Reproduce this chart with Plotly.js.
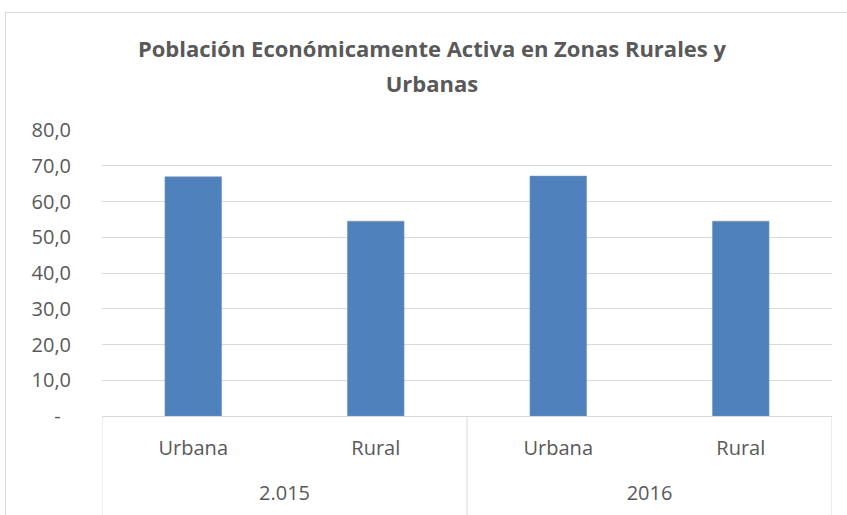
<!DOCTYPE html>
<html>
<head>
<meta charset="utf-8">
<script src="https://cdn.plot.ly/plotly-3.0.1.min.js"></script>
<style>
html,body{margin:0;padding:0;background:#fff;}
#wrap{position:relative;width:847px;height:515px;overflow:hidden;}
#chart{width:847px;height:515px;}
#frame{position:absolute;left:5px;top:12px;width:900px;height:600px;border:1px solid #d9d9d9;pointer-events:none;}
</style>
</head>
<body>
<div id="wrap"><div id="chart"></div><div id="frame"></div></div>
<script>
const years = ["2.015", "2016"];
const zones = ["Urbana", "Rural", "Urbana", "Rural"];
const values = [66.9, 54.5, 67.1, 54.5];
const yTickVals = [0, 10, 20, 30, 40, 50, 60, 70, 80];
const yTickText = ["-\u00a0\u00a0", "10,0", "20,0", "30,0", "40,0", "50,0", "60,0", "70,0", "80,0"];

const font = "'Open Sans', 'Noto Sans', sans-serif";
const pos = zones.map((_, i) => i);
const groupPos = years.map((_, g) => g * 2 + 0.5);
const dividerPos = [-0.5, 1.5, 3.5];

Plotly.newPlot("chart", [{
  type: "bar",
  x: pos,
  y: values,
  width: 0.31,
  marker: {color: "#4f81bd", line: {color: "#6e98cc", width: 0.6}},
  hoverinfo: "skip"
}, {
  type: "scatter", mode: "markers", x: [], y: [], xaxis: "x2", yaxis: "y", hoverinfo: "skip", showlegend: false
}], {
  width: 847, height: 515,
  margin: {l: 102, r: 15, t: 130, b: 99},
  paper_bgcolor: "#fff", plot_bgcolor: "#fff",
  font: {family: font, color: "#595959", size: 19},
  title: {
    text: "<b><span style='font-size:22px'>Población Económicamente Activa en Zonas Rurales y<br>Urbanas</span></b>",
    font: {family: font, size: 27, color: "#595959"},
    xref: "container", x: 0.51, xanchor: "center",
    yref: "container", y: 0.89, yanchor: "top"
  },
  xaxis: {
    range: [-0.5, 3.5],
    tickvals: pos, ticktext: zones,
    showline: true, linecolor: "#d9d9d9", linewidth: 1,
    ticks: "", showgrid: false, zeroline: false,
    ticklabelstandoff: 14,
    tickfont: {family: font, size: 20, color: "#595959"}
  },
  xaxis2: {
    overlaying: "x", anchor: "y", side: "bottom",
    range: [-0.5, 3.5],
    tickvals: groupPos, ticktext: years,
    showline: false, ticks: "", showgrid: false, zeroline: false,
    ticklabelstandoff: 63,
    tickfont: {family: font, size: 20, color: "#595959"}
  },
  yaxis: {
    range: [0, 80],
    tickvals: yTickVals, ticktext: yTickText,
    showgrid: true, gridcolor: "#d9d9d9", gridwidth: 1,
    zeroline: false, showline: false, ticks: "",
    ticklabelstandoff: 30,
    tickfont: {family: font, size: 20, color: "#595959"}
  },
  shapes: dividerPos.map(p => ({
    type: "line", xref: "x", yref: "paper",
    x0: p, x1: p, y0: 0, y1: -0.4,
    line: {color: "#d9d9d9", width: 1}
  })),
  showlegend: false
}, {displayModeBar: false, staticPlot: true});
</script>
</body>
</html>
